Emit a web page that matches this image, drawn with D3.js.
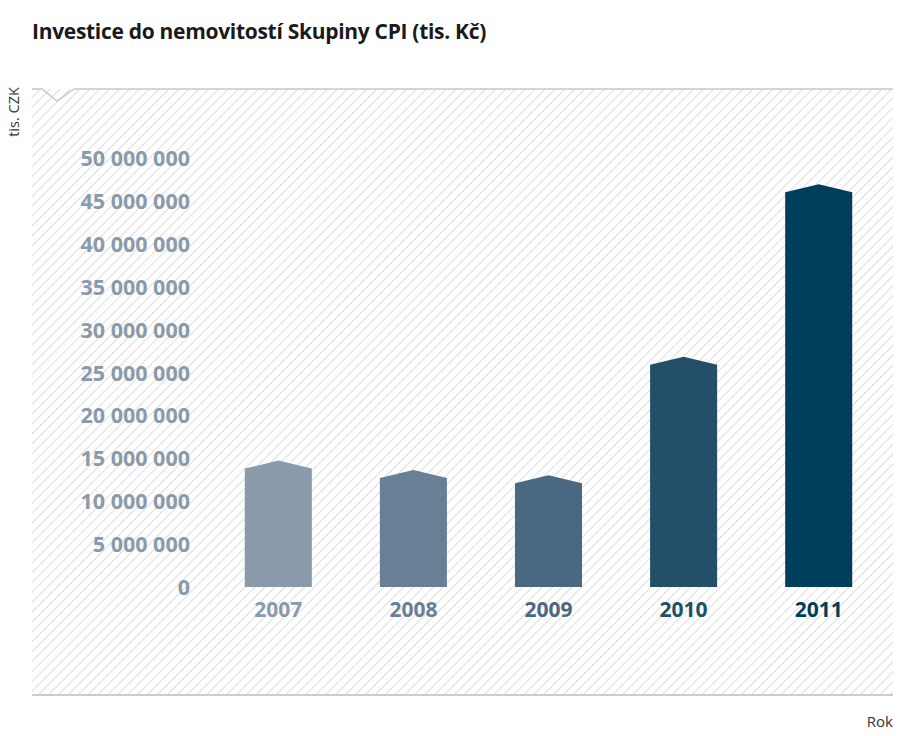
<!DOCTYPE html>
<html><head><meta charset="utf-8">
<script src="https://cdn.jsdelivr.net/npm/d3@7"></script>
<style>body{margin:0;background:#fff}svg{display:block}</style>
</head><body>
<svg id="c" width="900" height="736"></svg>
<script>
const years = ["2007","2008","2009","2010","2011"];
const values = [13800000, 12700000, 12100000, 25900000, 46000000];
const barColors = ["#8a9aab","#687f96","#4a6882","#234f69","#003e5c"];
const yTicks = [0,5000000,10000000,15000000,20000000,25000000,30000000,35000000,40000000,45000000,50000000];
const title = "Investice do nemovitostí Skupiny CPI (tis. Kč)";
const yTitle = "tis. CZK";
const xTitle = "Rok";

const svg = d3.select("#c");
const font = "'Open Sans', sans-serif";
const defs = svg.append("defs");
const sp = 7;
const pat = defs.append("pattern").attr("id","hatch").attr("patternUnits","userSpaceOnUse")
  .attr("width",sp).attr("height",sp).attr("patternTransform","rotate(45)");
pat.append("line").attr("x1",0).attr("y1",0).attr("x2",0).attr("y2",sp)
  .attr("stroke","#cfcfcf").attr("stroke-width",1.4);

const L=32, R=893, T=89, B=695;
svg.append("rect").attr("x",L).attr("y",T).attr("width",R-L).attr("height",B-T).attr("fill","url(#hatch)");
svg.append("path").attr("d",`M${L},${T}H42L57,101L74,${T}H${R}`).attr("fill","none").attr("stroke","#c8c8c8").attr("stroke-width",1.5);
svg.append("line").attr("x1",L).attr("x2",R).attr("y1",B).attr("y2",B).attr("stroke","#cccccc").attr("stroke-width",2);

const y = d3.scaleLinear().domain([0,50000000]).range([587,158]);
const x = d3.scaleBand().domain(years).range([211,886]).paddingInner(0.5037).paddingOuter(0.25);

const fmt = v => d3.format(",")(v).replace(/,/g," ");
const yAxis = d3.axisLeft(y).tickValues(yTicks).tickFormat(fmt).tickSize(0).tickPadding(0);
const ga = svg.append("g").attr("transform","translate(190,0)").call(yAxis);
ga.select(".domain").remove();
ga.selectAll("text").attr("font-family",font).attr("font-weight","bold").attr("font-size",21.5)
  .attr("fill","#8a9aab").attr("dy","0.35em");

const peak = 8;
svg.append("g").selectAll("path").data(years).join("path")
  .attr("fill",(d,i)=>barColors[i])
  .attr("d",(d,i)=>{
    const x0=x(d), w=x.bandwidth(), yt=y(values[i]), yb=y(0);
    return `M${x0},${yb}V${yt}L${x0+w/2},${yt-peak}L${x0+w},${yt}V${yb}Z`;
  });

const xAxis = d3.axisBottom(x).tickSize(0).tickPadding(0);
const gx = svg.append("g").attr("transform","translate(0,610)").call(xAxis);
gx.select(".domain").remove();
gx.selectAll("text").attr("font-family",font).attr("font-weight","bold").attr("font-size",21)
  .attr("fill",(d,i)=>barColors[i]).attr("dy","0.35em").attr("y",0);

svg.append("text").attr("x",32).attr("y",39).text(title).attr("font-family",font).attr("font-weight","bold")
  .attr("font-size",21).attr("fill","#1a1a1a").attr("letter-spacing","-0.3");
svg.append("text").attr("transform","translate(19,112) rotate(-90)").attr("text-anchor","middle")
  .text(yTitle).attr("font-family",font).attr("font-size",14.5).attr("fill","#333");
svg.append("text").attr("x",893).attr("y",727).attr("text-anchor","end")
  .text(xTitle).attr("font-family",font).attr("font-size",15).attr("fill","#333");
</script>
</body></html>
